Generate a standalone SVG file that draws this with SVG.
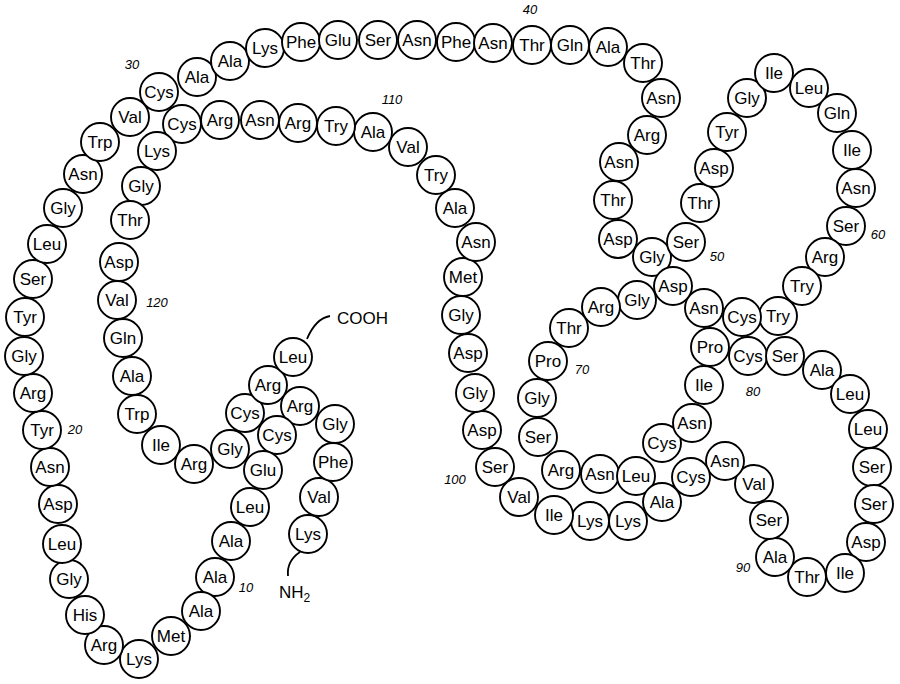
<svg xmlns="http://www.w3.org/2000/svg" width="900" height="684" viewBox="0 0 900 684">
<style>
.n circle{fill:#fff;stroke:#000;stroke-width:1.9}
.n text{font-family:"Liberation Sans",Arial,sans-serif;font-size:17px;text-anchor:middle;fill:#000}
.num{font-family:"Liberation Sans",Arial,sans-serif;font-size:13px;font-style:italic;text-anchor:middle;fill:#000}
.term{font-family:"Liberation Sans",Arial,sans-serif;font-size:17px;fill:#000}
.conn path{fill:none;stroke:#000;stroke-width:1.8}
</style>
<rect width="900" height="684" fill="#fff"/>
<g id="connectors" class="conn">
<path d="M300,552 C291,558 287,566 288,576"/>
<path d="M307,339 C312,327 319,318 330,316"/>
</g>
<g id="r1" class="n"><circle cx="308" cy="534" r="19"/><text x="308" y="540">Lys</text></g>
<g id="r2" class="n"><circle cx="319" cy="497" r="19"/><text x="319" y="503">Val</text></g>
<g id="r3" class="n"><circle cx="333" cy="462" r="19"/><text x="333" y="468">Phe</text></g>
<g id="r4" class="n"><circle cx="335" cy="424" r="19"/><text x="335" y="430">Gly</text></g>
<g id="r5" class="n"><circle cx="300" cy="406" r="19"/><text x="300" y="412">Arg</text></g>
<g id="r6" class="n"><circle cx="277" cy="435" r="19"/><text x="277" y="441">Cys</text></g>
<g id="r7" class="n"><circle cx="263" cy="470" r="19"/><text x="263" y="476">Glu</text></g>
<g id="r8" class="n"><circle cx="250" cy="507" r="19"/><text x="250" y="513">Leu</text></g>
<g id="r9" class="n"><circle cx="231" cy="541" r="19"/><text x="231" y="547">Ala</text></g>
<g id="r10" class="n"><circle cx="215" cy="577" r="19"/><text x="215" y="583">Ala</text></g>
<g id="r11" class="n"><circle cx="201" cy="611" r="19"/><text x="201" y="617">Ala</text></g>
<g id="r12" class="n"><circle cx="171" cy="636" r="19"/><text x="171" y="642">Met</text></g>
<g id="r13" class="n"><circle cx="139" cy="659" r="19"/><text x="139" y="665">Lys</text></g>
<g id="r14" class="n"><circle cx="104" cy="645" r="19"/><text x="104" y="651">Arg</text></g>
<g id="r15" class="n"><circle cx="85" cy="615" r="19"/><text x="85" y="621">His</text></g>
<g id="r16" class="n"><circle cx="69" cy="579" r="19"/><text x="69" y="585">Gly</text></g>
<g id="r17" class="n"><circle cx="62" cy="544" r="19"/><text x="62" y="550">Leu</text></g>
<g id="r18" class="n"><circle cx="58" cy="504" r="19"/><text x="58" y="510">Asp</text></g>
<g id="r19" class="n"><circle cx="50" cy="467" r="19"/><text x="50" y="473">Asn</text></g>
<g id="r20" class="n"><circle cx="42" cy="430" r="19"/><text x="42" y="436">Tyr</text></g>
<g id="r21" class="n"><circle cx="33" cy="393" r="19"/><text x="33" y="399">Arg</text></g>
<g id="r22" class="n"><circle cx="24" cy="356" r="19"/><text x="24" y="362">Gly</text></g>
<g id="r23" class="n"><circle cx="25" cy="317" r="19"/><text x="25" y="323">Tyr</text></g>
<g id="r24" class="n"><circle cx="33" cy="279" r="19"/><text x="33" y="285">Ser</text></g>
<g id="r25" class="n"><circle cx="47" cy="244" r="19"/><text x="47" y="250">Leu</text></g>
<g id="r26" class="n"><circle cx="63" cy="208" r="19"/><text x="63" y="214">Gly</text></g>
<g id="r27" class="n"><circle cx="83" cy="174" r="19"/><text x="83" y="180">Asn</text></g>
<g id="r28" class="n"><circle cx="100" cy="142" r="19"/><text x="100" y="148">Trp</text></g>
<g id="r29" class="n"><circle cx="130" cy="117" r="19"/><text x="130" y="123">Val</text></g>
<g id="r30" class="n"><circle cx="159" cy="92" r="19"/><text x="159" y="98">Cys</text></g>
<g id="r31" class="n"><circle cx="197" cy="77" r="19"/><text x="197" y="83">Ala</text></g>
<g id="r32" class="n"><circle cx="230" cy="61" r="19"/><text x="230" y="67">Ala</text></g>
<g id="r33" class="n"><circle cx="265" cy="48" r="19"/><text x="265" y="54">Lys</text></g>
<g id="r34" class="n"><circle cx="301" cy="42" r="19"/><text x="301" y="48">Phe</text></g>
<g id="r35" class="n"><circle cx="338" cy="40" r="19"/><text x="338" y="46">Glu</text></g>
<g id="r36" class="n"><circle cx="378" cy="40" r="19"/><text x="378" y="46">Ser</text></g>
<g id="r37" class="n"><circle cx="417" cy="40" r="19"/><text x="417" y="46">Asn</text></g>
<g id="r38" class="n"><circle cx="456" cy="42" r="19"/><text x="456" y="48">Phe</text></g>
<g id="r39" class="n"><circle cx="493" cy="43" r="19"/><text x="493" y="49">Asn</text></g>
<g id="r40" class="n"><circle cx="532" cy="45" r="19"/><text x="532" y="51">Thr</text></g>
<g id="r41" class="n"><circle cx="570" cy="45" r="19"/><text x="570" y="51">Gln</text></g>
<g id="r42" class="n"><circle cx="608" cy="47" r="19"/><text x="608" y="53">Ala</text></g>
<g id="r43" class="n"><circle cx="643" cy="63" r="19"/><text x="643" y="69">Thr</text></g>
<g id="r44" class="n"><circle cx="661" cy="98" r="19"/><text x="661" y="104">Asn</text></g>
<g id="r45" class="n"><circle cx="647" cy="135" r="19"/><text x="647" y="141">Arg</text></g>
<g id="r46" class="n"><circle cx="619" cy="162" r="19"/><text x="619" y="168">Asn</text></g>
<g id="r47" class="n"><circle cx="613" cy="200" r="19"/><text x="613" y="206">Thr</text></g>
<g id="r48" class="n"><circle cx="618" cy="239" r="19"/><text x="618" y="245">Asp</text></g>
<g id="r49" class="n"><circle cx="652" cy="257" r="19"/><text x="652" y="263">Gly</text></g>
<g id="r50" class="n"><circle cx="686" cy="242" r="19"/><text x="686" y="248">Ser</text></g>
<g id="r51" class="n"><circle cx="700" cy="203" r="19"/><text x="700" y="209">Thr</text></g>
<g id="r52" class="n"><circle cx="714" cy="168" r="19"/><text x="714" y="174">Asp</text></g>
<g id="r53" class="n"><circle cx="727" cy="132" r="19"/><text x="727" y="138">Tyr</text></g>
<g id="r54" class="n"><circle cx="747" cy="98" r="19"/><text x="747" y="104">Gly</text></g>
<g id="r55" class="n"><circle cx="774" cy="73" r="19"/><text x="774" y="79">Ile</text></g>
<g id="r56" class="n"><circle cx="809" cy="88" r="19"/><text x="809" y="94">Leu</text></g>
<g id="r57" class="n"><circle cx="837" cy="113" r="19"/><text x="837" y="119">Gln</text></g>
<g id="r58" class="n"><circle cx="852" cy="150" r="19"/><text x="852" y="156">Ile</text></g>
<g id="r59" class="n"><circle cx="856" cy="188" r="19"/><text x="856" y="194">Asn</text></g>
<g id="r60" class="n"><circle cx="846" cy="226" r="19"/><text x="846" y="232">Ser</text></g>
<g id="r61" class="n"><circle cx="825" cy="257" r="19"/><text x="825" y="263">Arg</text></g>
<g id="r62" class="n"><circle cx="802" cy="286" r="19"/><text x="802" y="292">Try</text></g>
<g id="r63" class="n"><circle cx="778" cy="316" r="19"/><text x="778" y="322">Try</text></g>
<g id="r64" class="n"><circle cx="742" cy="317" r="19"/><text x="742" y="323">Cys</text></g>
<g id="r65" class="n"><circle cx="704" cy="308" r="19"/><text x="704" y="314">Asn</text></g>
<g id="r66" class="n"><circle cx="673" cy="286" r="19"/><text x="673" y="292">Asp</text></g>
<g id="r67" class="n"><circle cx="637" cy="300" r="19"/><text x="637" y="306">Gly</text></g>
<g id="r68" class="n"><circle cx="601" cy="307" r="19"/><text x="601" y="313">Arg</text></g>
<g id="r69" class="n"><circle cx="569" cy="328" r="19"/><text x="569" y="334">Thr</text></g>
<g id="r70" class="n"><circle cx="548" cy="361" r="19"/><text x="548" y="367">Pro</text></g>
<g id="r71" class="n"><circle cx="537" cy="398" r="19"/><text x="537" y="404">Gly</text></g>
<g id="r72" class="n"><circle cx="538" cy="437" r="19"/><text x="538" y="443">Ser</text></g>
<g id="r73" class="n"><circle cx="561" cy="470" r="19"/><text x="561" y="476">Arg</text></g>
<g id="r74" class="n"><circle cx="600" cy="474" r="19"/><text x="600" y="480">Asn</text></g>
<g id="r75" class="n"><circle cx="636" cy="476" r="19"/><text x="636" y="482">Leu</text></g>
<g id="r76" class="n"><circle cx="662" cy="443" r="19"/><text x="662" y="449">Cys</text></g>
<g id="r77" class="n"><circle cx="692" cy="423" r="19"/><text x="692" y="429">Asn</text></g>
<g id="r78" class="n"><circle cx="704" cy="385" r="19"/><text x="704" y="391">Ile</text></g>
<g id="r79" class="n"><circle cx="710" cy="347" r="19"/><text x="710" y="353">Pro</text></g>
<g id="r80" class="n"><circle cx="748" cy="356" r="19"/><text x="748" y="362">Cys</text></g>
<g id="r81" class="n"><circle cx="785" cy="356" r="19"/><text x="785" y="362">Ser</text></g>
<g id="r82" class="n"><circle cx="822" cy="370" r="19"/><text x="822" y="376">Ala</text></g>
<g id="r83" class="n"><circle cx="850" cy="394" r="19"/><text x="850" y="400">Leu</text></g>
<g id="r84" class="n"><circle cx="868" cy="429" r="19"/><text x="868" y="435">Leu</text></g>
<g id="r85" class="n"><circle cx="872" cy="467" r="19"/><text x="872" y="473">Ser</text></g>
<g id="r86" class="n"><circle cx="874" cy="504" r="19"/><text x="874" y="510">Ser</text></g>
<g id="r87" class="n"><circle cx="866" cy="542" r="19"/><text x="866" y="548">Asp</text></g>
<g id="r88" class="n"><circle cx="845" cy="573" r="19"/><text x="845" y="579">Ile</text></g>
<g id="r89" class="n"><circle cx="807" cy="577" r="19"/><text x="807" y="583">Thr</text></g>
<g id="r90" class="n"><circle cx="775" cy="557" r="19"/><text x="775" y="563">Ala</text></g>
<g id="r91" class="n"><circle cx="769" cy="520" r="19"/><text x="769" y="526">Ser</text></g>
<g id="r92" class="n"><circle cx="754" cy="484" r="19"/><text x="754" y="490">Val</text></g>
<g id="r93" class="n"><circle cx="725" cy="461" r="19"/><text x="725" y="467">Asn</text></g>
<g id="r94" class="n"><circle cx="691" cy="477" r="19"/><text x="691" y="483">Cys</text></g>
<g id="r95" class="n"><circle cx="662" cy="502" r="19"/><text x="662" y="508">Ala</text></g>
<g id="r96" class="n"><circle cx="628" cy="521" r="19"/><text x="628" y="527">Lys</text></g>
<g id="r97" class="n"><circle cx="590" cy="521" r="19"/><text x="590" y="527">Lys</text></g>
<g id="r98" class="n"><circle cx="554" cy="515" r="19"/><text x="554" y="521">Ile</text></g>
<g id="r99" class="n"><circle cx="519" cy="497" r="19"/><text x="519" y="503">Val</text></g>
<g id="r100" class="n"><circle cx="495" cy="467" r="19"/><text x="495" y="473">Ser</text></g>
<g id="r101" class="n"><circle cx="482" cy="430" r="19"/><text x="482" y="436">Asp</text></g>
<g id="r102" class="n"><circle cx="475" cy="393" r="19"/><text x="475" y="399">Gly</text></g>
<g id="r103" class="n"><circle cx="468" cy="353" r="19"/><text x="468" y="359">Asp</text></g>
<g id="r104" class="n"><circle cx="461" cy="315" r="19"/><text x="461" y="321">Gly</text></g>
<g id="r105" class="n"><circle cx="463" cy="277" r="19"/><text x="463" y="283">Met</text></g>
<g id="r106" class="n"><circle cx="476" cy="242" r="19"/><text x="476" y="248">Asn</text></g>
<g id="r107" class="n"><circle cx="455" cy="208" r="19"/><text x="455" y="214">Ala</text></g>
<g id="r108" class="n"><circle cx="436" cy="175" r="19"/><text x="436" y="181">Try</text></g>
<g id="r109" class="n"><circle cx="408" cy="147" r="19"/><text x="408" y="153">Val</text></g>
<g id="r110" class="n"><circle cx="373" cy="132" r="19"/><text x="373" y="138">Ala</text></g>
<g id="r111" class="n"><circle cx="336" cy="126" r="19"/><text x="336" y="132">Try</text></g>
<g id="r112" class="n"><circle cx="298" cy="123" r="19"/><text x="298" y="129">Arg</text></g>
<g id="r113" class="n"><circle cx="260" cy="120" r="19"/><text x="260" y="126">Asn</text></g>
<g id="r114" class="n"><circle cx="220" cy="120" r="19"/><text x="220" y="126">Arg</text></g>
<g id="r115" class="n"><circle cx="182" cy="124" r="19"/><text x="182" y="130">Cys</text></g>
<g id="r116" class="n"><circle cx="157" cy="151" r="19"/><text x="157" y="157">Lys</text></g>
<g id="r117" class="n"><circle cx="141" cy="186" r="19"/><text x="141" y="192">Gly</text></g>
<g id="r118" class="n"><circle cx="130" cy="220" r="19"/><text x="130" y="226">Thr</text></g>
<g id="r119" class="n"><circle cx="119" cy="262" r="19"/><text x="119" y="268">Asp</text></g>
<g id="r120" class="n"><circle cx="117" cy="300" r="19"/><text x="117" y="306">Val</text></g>
<g id="r121" class="n"><circle cx="123" cy="338" r="19"/><text x="123" y="344">Gln</text></g>
<g id="r122" class="n"><circle cx="132" cy="376" r="19"/><text x="132" y="382">Ala</text></g>
<g id="r123" class="n"><circle cx="137" cy="414" r="19"/><text x="137" y="420">Trp</text></g>
<g id="r124" class="n"><circle cx="161" cy="445" r="19"/><text x="161" y="451">Ile</text></g>
<g id="r125" class="n"><circle cx="194" cy="464" r="19"/><text x="194" y="470">Arg</text></g>
<g id="r126" class="n"><circle cx="230" cy="449" r="19"/><text x="230" y="455">Gly</text></g>
<g id="r127" class="n"><circle cx="245" cy="413" r="19"/><text x="245" y="419">Cys</text></g>
<g id="r128" class="n"><circle cx="268" cy="385" r="19"/><text x="268" y="391">Arg</text></g>
<g id="r129" class="n"><circle cx="293" cy="357" r="19"/><text x="293" y="363">Leu</text></g>
<g id="labels">
<text class="term" x="337" y="324">COOH</text>
<text class="term" x="279" y="598">NH<tspan font-size="12" dy="4">2</tspan></text>
<text class="num" x="246" y="592">10</text>
<text class="num" x="75" y="434">20</text>
<text class="num" x="132" y="69">30</text>
<text class="num" x="530" y="14">40</text>
<text class="num" x="717" y="261">50</text>
<text class="num" x="878" y="239">60</text>
<text class="num" x="582" y="374">70</text>
<text class="num" x="753" y="396">80</text>
<text class="num" x="743" y="572">90</text>
<text class="num" x="455" y="484">100</text>
<text class="num" x="392" y="104">110</text>
<text class="num" x="157" y="307">120</text>
</g>
</svg>
